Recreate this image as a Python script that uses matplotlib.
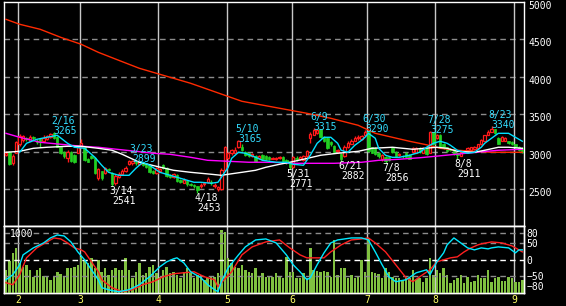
import matplotlib
matplotlib.use("Agg")
import matplotlib.pyplot as plt
from matplotlib.transforms import blended_transform_factory, ScaledTranslation

plt.rcParams['font.family'] = 'DejaVu Sans Mono'
plt.rcParams['font.size'] = 7

# daily candles (index 0 = first visible day)
opens = [2960, 3000, 2850, 2990,
         3100, 3160, 3190, 3150, 3200, 3150, 3170, 3140, 3170, 3200, 3250, 3200, 3060, 3000, 2920, 3000, 2960, 2990,
         3070, 3070, 2900, 2950, 2920, 2650, 2740, 2720, 2770, 2720, 2580, 2670, 2700, 2740, 2840, 2850, 2870, 2840, 2860, 2840, 2820, 2750,
         2720, 2740, 2830, 2790, 2690, 2660, 2690, 2620, 2590, 2610, 2570, 2560, 2540, 2540, 2570, 2600, 2600, 2540, 2500, 2500, 2760,
         2920, 2980, 2990, 3060, 3060, 3000, 2980, 2950, 2950, 2920, 2960, 2950, 2930, 2910, 2900, 2920, 2930, 2890, 2860,
         2800, 2920, 2900, 2890, 2940, 3180, 3230, 3250, 3300, 3200, 3190, 3130, 3080, 3010, 2970, 2940, 3060, 3110, 3150, 3180, 3170, 3230,
         3270, 3060, 3050, 2990, 2900, 2930, 2930, 3050, 3000, 2960, 2950, 2990, 2960, 3000, 2990, 3050, 2990, 3050, 2990, 3260,
         3180, 3230, 3110, 3060, 3040, 3030, 2990, 2950, 3000, 3020, 3030, 3040, 3050, 3100, 3150, 3230, 3270, 3300, 3190, 3150, 3150, 3140, 3130,
         3100, 3060, 3050]
closes = [2990, 2840, 2950, 3130,
          3210, 3210, 3170, 3200, 3180, 3130, 3130, 3180, 3210, 3240, 3180, 3070, 2990, 2940, 3000, 2880, 2870, 3060,
          3120, 2890, 2870, 2920, 2720, 2770, 2650, 2780, 2760, 2570, 2680, 2710, 2750, 2790, 2880, 2880, 2850, 2870, 2830, 2800, 2730, 2720,
          2780, 2770, 2790, 2680, 2670, 2700, 2610, 2600, 2630, 2570, 2560, 2540, 2490, 2560, 2590, 2640, 2580, 2560, 2530, 2760, 3060,
          2980, 3020, 3030, 3150, 3020, 2960, 2940, 2970, 2880, 2950, 2900, 2900, 2900, 2920, 2920, 2930, 2880, 2860, 2800,
          2930, 2900, 2930, 2940, 3010, 3240, 3290, 3290, 3200, 3150, 3050, 3100, 3000, 3020, 2900, 3070, 3120, 3150, 3190, 3200, 3210, 3270,
          3010, 2990, 2970, 2940, 2960, 2880, 2890, 3000, 2950, 2970, 2940, 2930, 2910, 3050, 3050, 3000, 3050, 2970, 3260, 3100,
          3220, 3060, 3050, 3010, 3030, 2970, 2960, 3000, 3010, 3050, 3060, 3060, 3100, 3160, 3220, 3270, 3310, 3250, 3110, 3200, 3190, 3120, 3100,
          3060, 3020, 3000]
highs = [3010, 3010, 2970, 3150,
         3240, 3230, 3200, 3220, 3210, 3170, 3180, 3220, 3230, 3250, 3265, 3210, 3070, 3010, 3020, 3010, 2970, 3070,
         3170, 3080, 2920, 2960, 2930, 2790, 2750, 2800, 2790, 2730, 2700, 2730, 2770, 2810, 2890, 2899, 2880, 2885, 2870, 2850, 2830, 2760,
         2800, 2790, 2840, 2800, 2700, 2720, 2700, 2640, 2650, 2620, 2590, 2570, 2550, 2580, 2600, 2660, 2620, 2580, 2550, 2780, 3080,
         3000, 3040, 3060, 3165, 3110, 3010, 2990, 2980, 2960, 2960, 2970, 2960, 2940, 2930, 2930, 2950, 2940, 2900, 2870,
         2950, 2940, 2950, 2960, 3030, 3260, 3315, 3310, 3310, 3210, 3200, 3140, 3090, 3040, 2980, 3090, 3140, 3170, 3210, 3220, 3230, 3290,
         3280, 3070, 3060, 3000, 2970, 2940, 2940, 3060, 3010, 2990, 2960, 3000, 2970, 3060, 3070, 3060, 3060, 3060, 3275, 3265,
         3240, 3240, 3120, 3070, 3050, 3040, 3000, 3010, 3030, 3060, 3070, 3080, 3110, 3170, 3230, 3290, 3340, 3310, 3200, 3210, 3200, 3150, 3140,
         3110, 3080, 3060]
lows = [2940, 2820, 2830, 2980,
        3080, 3130, 3150, 3140, 3160, 3110, 3070, 3130, 3160, 3190, 3170, 3060, 2970, 2920, 2860, 2870, 2850, 2980,
        3050, 2880, 2860, 2900, 2700, 2630, 2630, 2700, 2740, 2541, 2560, 2650, 2690, 2730, 2820, 2830, 2830, 2820, 2810, 2790, 2720, 2700,
        2700, 2730, 2770, 2670, 2650, 2650, 2600, 2580, 2580, 2550, 2540, 2520, 2453, 2520, 2550, 2590, 2560, 2520, 2480, 2490, 2750,
        2900, 2960, 2980, 3050, 3010, 2940, 2930, 2930, 2870, 2910, 2890, 2890, 2890, 2900, 2890, 2910, 2870, 2840, 2771,
        2790, 2880, 2890, 2880, 2930, 3120, 3220, 3240, 3190, 3130, 3040, 3080, 2990, 2990, 2882, 2930, 3050, 3100, 3140, 3160, 3160, 3220,
        3000, 2980, 2960, 2920, 2880, 2856, 2880, 2990, 2940, 2950, 2920, 2920, 2900, 2990, 2980, 2990, 2980, 2960, 2980, 3090,
        3170, 3050, 3040, 3000, 3010, 2960, 2911, 2940, 2990, 3010, 3020, 3030, 3040, 3090, 3140, 3220, 3260, 3240, 3100, 3140, 3140, 3100, 3090,
        3050, 3010, 2990]

volume = [345, 480, 600, 675, 450, 390, 420, 345, 240, 345,
          375, 255, 240, 195, 240, 315, 285, 240, 375, 375,
          390, 420, 540, 495, 450, 525, 375, 495, 315, 375,
          270, 345, 375, 345, 345, 525, 345, 225, 315, 450,
          270, 300, 390, 420, 300, 240, 345, 390, 300, 315,
          270, 225, 315, 375, 300, 225, 270, 270, 195, 225,
          240, 240, 300, 945, 915, 525, 450, 390, 375, 420,
          345, 315, 300, 375, 240, 300, 240, 240, 240, 300,
          240, 225, 540, 315, 315, 225, 225, 300, 225, 675,
          345, 330, 315, 330, 315, 240, 795, 270, 375, 375,
          225, 270, 225, 240, 495, 315, 825, 315, 300, 285,
          225, 375, 315, 240, 225, 225, 195, 225, 225, 345,
          210, 225, 165, 225, 525, 270, 345, 300, 375, 270,
          150, 195, 225, 270, 150, 240, 165, 180, 270, 225,
          225, 345, 165, 225, 240, 180, 180, 240, 225, 165,
          165, 195]

# moving averages, read at sampled days
ma_short_idx = [4, 6, 9, 12, 15, 18, 20, 23, 26, 28, 30, 33, 36, 38, 40, 42, 45, 50, 55, 57, 60, 62, 63, 65, 66, 68, 70,
                73, 75, 79, 82, 84, 87, 89, 91, 93, 95, 97, 98, 100, 102, 104, 105, 106, 108, 109, 111, 113, 115, 118,
                121, 123, 125, 127, 129, 130, 132, 135, 137, 139, 140, 142, 144, 147, 149, 151]
ma_short = [2996, 3116, 3169, 3196, 3223, 3116, 3063, 3049, 2929, 2823, 2729, 2689, 2689, 2783, 2863, 2823, 2729, 2663,
            2596, 2596, 2583, 2596, 2663, 2796, 2916, 2996, 2983, 2929, 2889, 2863, 2863, 2836, 2823, 2956, 3116, 3196,
            3196, 3116, 3023, 2996, 3089, 3156, 3196, 3249, 3183, 3049, 2956, 2929, 2929, 2956, 2996, 3063, 3116, 3143,
            3116, 3089, 3023, 2983, 2996, 3063, 3116, 3183, 3249, 3249, 3196, 3143]
ma_mid_idx = [0, 4, 8, 12, 18, 22, 27, 31, 34, 39, 44, 49, 54, 60, 63, 65, 69, 73, 76, 80, 83, 87, 92, 97, 103, 107,
              113, 119, 126, 129, 132, 137, 140, 144, 147, 151]
ma_mid = [2996, 3009, 3049, 3063, 3076, 3076, 3049, 3023, 2969, 2863, 2809, 2756, 2729, 2703, 2689, 2703, 2729, 2756,
          2796, 2836, 2863, 2903, 2956, 2983, 3009, 3049, 3063, 3036, 3063, 3049, 3009, 2996, 3023, 3063, 3063, 3049]
ma_long_idx = [0, 4, 10, 16, 22, 27, 31, 38, 43, 48, 54, 59, 65, 71, 78, 83, 90, 96, 104, 109, 115, 121, 127, 133,
               139, 144, 151]
ma_long = [3249, 3196, 3129, 3103, 3076, 3063, 3043, 3009, 2983, 2969, 2929, 2889, 2876, 2863, 2863, 2849, 2849, 2849,
           2863, 2889, 2903, 2923, 2949, 2976, 3003, 3023, 3036]
ma_trend_idx = [0, 4, 10, 16, 22, 27, 33, 39, 45, 54, 69, 80, 88, 95, 103, 108, 113, 118, 123, 127, 132, 137, 142, 151]
ma_trend = [4769, 4703, 4636, 4529, 4436, 4329, 4222, 4116, 4036, 3916, 3676, 3583, 3516, 3449, 3356, 3249, 3196,
            3143, 3096, 3049, 3023, 3009, 2996, 2996]

# oscillators in the volume pane
osc_cyan_idx = [0, 2, 4, 5, 8, 11, 13, 15, 17, 19, 21, 23, 25, 27, 28, 31, 33, 36, 39, 42, 45, 47, 49, 50, 52, 54, 57,
                59, 61, 62, 63, 65, 68, 70, 73, 76, 79, 82, 84, 86, 88, 89, 91, 93, 95, 97, 101, 104, 106, 108, 110,
                112, 114, 117, 120, 123, 124, 126, 128, 129, 131, 133, 135, 137, 139, 141, 142, 144, 147, 149, 150, 151]
osc_cyan = [-61, -46, -16, 14, 35, 50, 65, 74, 71, 53, 23, -1, -31, -61, -85, -94, -97, -91, -76, -52, -22, -7, 2, 5,
            -10, -37, -55, -76, -91, -97, -67, -25, 14, 38, 59, 62, 50, 14, -16, -37, -61, -55, -16, 20, 50, 59, 65,
            65, 59, 23, -16, -52, -67, -61, -40, -31, -46, -7, 20, 44, 65, 50, 35, 29, 35, 32, 35, 38, 35, 20, 29, 29]
osc_red_idx = [0, 2, 4, 6, 9, 12, 14, 16, 18, 20, 22, 23, 25, 27, 28, 31, 34, 37, 40, 43, 46, 49, 52, 55, 58, 61, 62,
               63, 66, 69, 72, 76, 80, 83, 86, 88, 90, 93, 95, 98, 101, 104, 106, 108, 111, 114, 117, 119, 121, 124,
               126, 128, 130, 132, 134, 136, 138, 139, 142, 145, 148, 150, 151]
osc_red = [-70, -76, -46, 5, 35, 53, 65, 62, 50, 35, 29, 23, -7, -37, -61, -85, -97, -91, -76, -67, -52, -43, -40, -37,
           -52, -61, -82, -70, -37, 14, 38, 53, 59, 35, 14, 5, 5, 5, 23, 44, 59, 62, 65, 50, 23, -16, -55, -67, -52,
           -31, -7, -1, 5, 8, 23, 35, 44, 47, 53, 50, 41, 29, 23]

month_labels = ["2", "3", "4", "5", "6", "7", "8", "9"]
month_start = [4, 22, 45, 65, 84, 106, 126, 149]

high_idx = [14, 37, 68, 90, 105, 124, 142]
high_date = ["2/16", "3/23", "5/10", "6/9", "6/30", "7/28", "8/23"]
high_val = [3265, 2899, 3165, 3315, 3290, 3275, 3340]
low_idx = [31, 56, 83, 98, 111, 132]
low_date = ["3/14", "4/18", "5/31", "6/21", "7/8", "8/8"]
low_val = [2541, 2453, 2771, 2882, 2856, 2911]

price_ticks = [5000, 4500, 4000, 3500, 3000, 2500]
osc_ticks = [80, 50, 0, -50, -80]

UP = '#ff1a1a'
DOWN = '#22d022'
GRID = '#8c8c8c'
MONTH = '#c8c8c8'

fig = plt.figure(figsize=(5.66, 3.06), dpi=100, facecolor='black')
ax = fig.add_axes([4 / 566, 1 - 226 / 306, 520 / 566, 224 / 306], facecolor='black')
axv = fig.add_axes([4 / 566, 1 - 293 / 306, 520 / 566, 67 / 306], facecolor='black')
axo = axv.twinx()
axo.patch.set_visible(False)

xmin, xmax = -0.58, 151.5

# ---- price pane
for t in price_ticks[1:]:
    ax.axhline(t, color=GRID, lw=1, ls=(0, (4, 3)), zorder=1)
for m in month_start:
    ax.axvline(m - 0.4, color=MONTH, lw=1, zorder=1)

for i in range(len(opens)):
    o, c, h, l = opens[i], closes[i], highs[i], lows[i]
    up = c >= o
    col = UP if up else DOWN
    ax.vlines(i, l, h, color=col, lw=1, zorder=3)
    body = max(abs(c - o), 8)
    if up:
        ax.bar(i, body, bottom=min(o, c), width=0.7, facecolor='black', edgecolor=col, lw=0.9, zorder=4)
    else:
        ax.bar(i, body, bottom=min(o, c), width=0.7, facecolor=col, edgecolor=col, lw=0.5, zorder=4)

ax.plot(ma_trend_idx, ma_trend, color='#ff2a00', lw=1, zorder=5)
ax.plot(ma_long_idx, ma_long, color='#ff00ff', lw=1, zorder=5)
ax.plot(ma_mid_idx, ma_mid, color='white', lw=1, zorder=5)
ax.plot(ma_short_idx, ma_short, color='#00e0ff', lw=1, zorder=6)

# peak / trough labels: date over price
for i, d, v in zip(high_idx, high_date, high_val):
    ax.annotate(d, (i, v), xytext=(-3, 8), textcoords='offset pixels', color='#33ddff',
                ha='left', va='baseline', zorder=8)
    ax.annotate(str(v), (i, v), xytext=(0, -2), textcoords='offset pixels', color='#33ddff',
                ha='left', va='baseline', zorder=8)
for i, d, v in zip(low_idx, low_date, low_val):
    ax.annotate(d, (i, v), xytext=(-3, -8), textcoords='offset pixels', color='white',
                ha='left', va='baseline', zorder=8)
    ax.annotate(str(v), (i, v), xytext=(0, -18), textcoords='offset pixels', color='white',
                ha='left', va='baseline', zorder=8)

ax.set_xlim(xmin, xmax)
ax.set_ylim(2013, 5000)
ax.set_xticks([])
ax.yaxis.tick_right()
ax.set_yticks(price_ticks)
ax.tick_params(axis='y', length=0, pad=3, colors='white', labelsize=7)
shift = ScaledTranslation(0, -3 / 100, fig.dpi_scale_trans)
for lab in ax.get_yticklabels():
    lab.set_transform(lab.get_transform() + shift)

# ---- volume / oscillator pane
for m in month_start:
    axv.axvline(m - 0.4, color=MONTH, lw=1, zorder=1)
axv.bar(range(len(volume)), volume, width=0.72, color='#80c040', zorder=3)
axv.set_xlim(xmin, xmax)
axv.set_ylim(0, 1005)
axv.set_xticks([])
axv.set_yticks([])
axv.text(0.012, 0.96, "1000", transform=axv.transAxes, color='white', ha='left', va='top', zorder=9)

for t in [80, 50, -50]:
    axo.axhline(t, color=GRID, lw=1, ls=(0, (4, 3)), zorder=2)
axo.axhline(0, color='white', lw=1, ls=(0, (4, 3)), zorder=2)
axo.plot(osc_red_idx, osc_red, color='#ff2020', lw=1, zorder=5)
axo.plot(osc_cyan_idx, osc_cyan, color='#00e8ff', lw=1, zorder=5)
axo.set_ylim(-101, 101)
axo.set_yticks(osc_ticks)
axo.tick_params(axis='y', length=0, pad=2, colors='white', labelsize=7)
axv.set_zorder(1)
axo.set_zorder(2)

trans = blended_transform_factory(axv.transData, axv.transAxes)
for lab, m in zip(month_labels, month_start):
    axv.text(m - 0.4, -0.1, lab, transform=trans, color='#ffff66', ha='center', va='center', clip_on=False)

for a in (ax, axv, axo):
    for s in a.spines.values():
        s.set_color('white')
        s.set_linewidth(1)

fig.savefig('out.png', dpi=100, facecolor='black')
